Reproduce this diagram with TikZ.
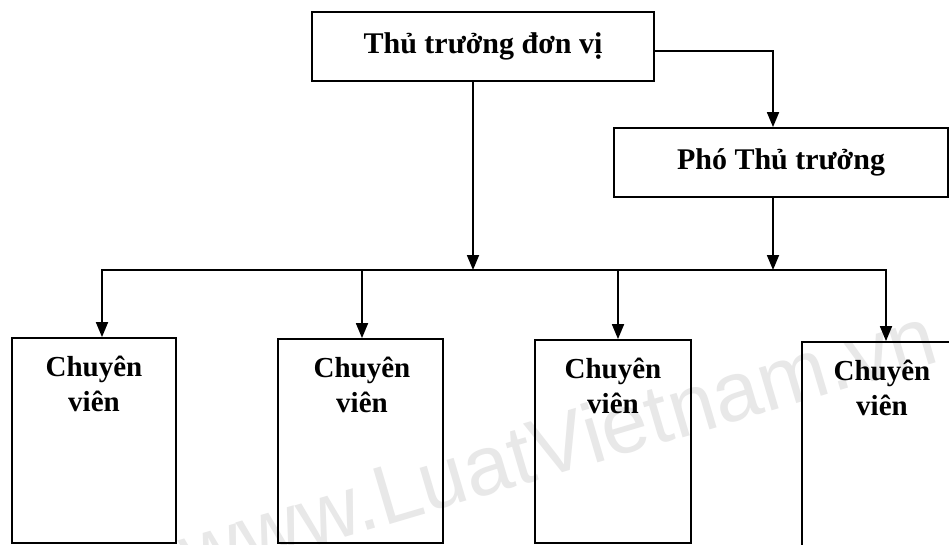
\documentclass[tikz,border=0pt]{standalone}
\usepackage{fontspec}
\setmainfont{Liberation Serif}
\newfontfamily\wmfont{Liberation Sans}
\usetikzlibrary{arrows.meta}
\begin{document}
\begin{tikzpicture}[x=1pt,y=-1pt,
  box/.style={draw=black, line width=1.8pt, rectangle, inner sep=0pt},
  title/.style={font=\bfseries\fontsize{30}{36}\selectfont},
  cvtext/.style={font=\bfseries\fontsize{29}{35}\selectfont, align=center, inner sep=0pt, anchor=north},
  wm/.style={font=\wmfont\fontsize{84}{84}\selectfont, text=black!9, anchor=base, rotate=16.5, inner sep=0pt},
  ln/.style={line width=1.8pt, line cap=rect},
  arr/.style={line width=1.8pt, line join=miter, -{Triangle[length=15pt,width=12pt]}}]
\fill[white] (0,0) rectangle (949,545);
\useasboundingbox (0,0) rectangle (949,545);
% watermark
\node[wm] (wmark) at (566,472) {www.LuatVietnam.vn};
% top boxes
\node[box, title, minimum width=342pt, minimum height=69pt] (head) at (483,46.5) {Thủ trưởng đơn vị};
\node[box, title, minimum width=334pt, minimum height=69pt] (dep) at (781,162.5) {Phó Thủ trưởng};
% bottom boxes
\node[box, minimum width=164pt, minimum height=205pt] (c1) at (94,440.5) {};
\node[box, minimum width=165pt, minimum height=204pt] (c2) at (360.5,441) {};
\node[box, minimum width=156pt, minimum height=203pt] (c3) at (613,441.5) {};
\node[box, minimum width=160pt, minimum height=230pt] (c4) at (882,457) {};
\node[cvtext] (t1) at ([yshift=-19pt]c1.north) {Chuyên\\viên};
\node[cvtext] (t2) at ([xshift=1.5pt,yshift=-19pt]c2.north) {Chuyên\\viên};
\node[cvtext] (t3) at ([yshift=-19pt]c3.north) {Chuyên\\viên};
\node[cvtext] (t4) at ([yshift=-19pt]c4.north) {Chuyên\\viên};
% connectors
\coordinate (bl) at (102,270);
\coordinate (br) at (886,270);
\coordinate (d2) at (362,270);
\coordinate (d3) at (618,270);
\coordinate (j1) at (473,270);
\coordinate (j2) at (773,270);
\coordinate (k) at (773,51);
\draw[ln] (bl) -- (br);
\draw[arr] (head.south -| j1) -- (j1);
\draw[arr] (head.east |- k) -- (k) -- (dep.north -| k);
\draw[arr] (dep.south -| j2) -- (j2);
\draw[arr] (bl) -- (bl |- c1.north);
\draw[arr] (d2) -- (d2 |- c2.north);
\draw[arr] (d3) -- (d3 |- c3.north);
\draw[arr] (br) -- (br |- c4.north);
\end{tikzpicture}
\end{document}
